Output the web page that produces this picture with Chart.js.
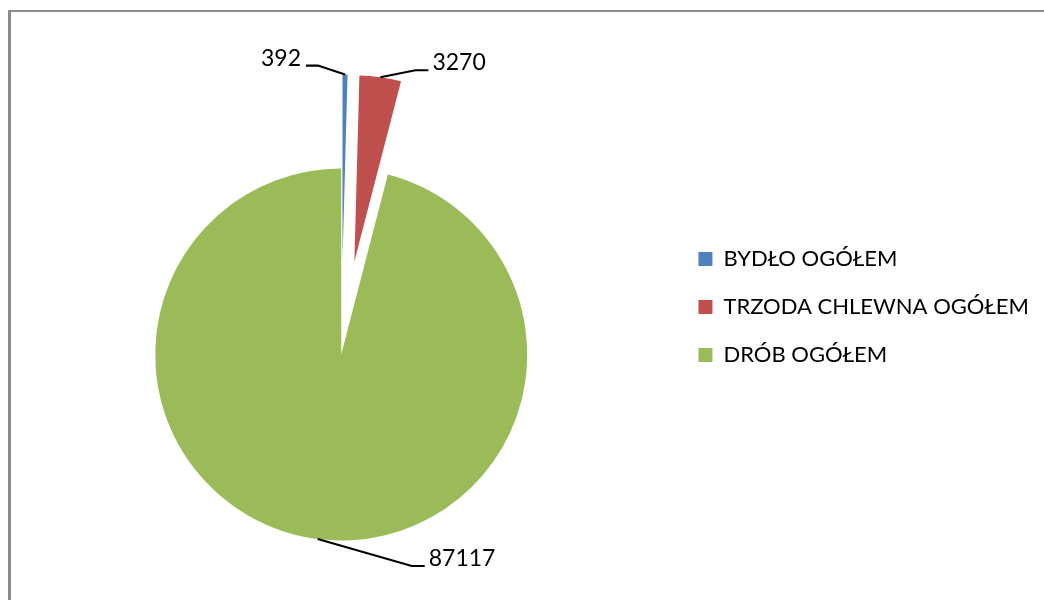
<!DOCTYPE html>
<html>
<head>
<meta charset="utf-8">
<script src="https://cdn.jsdelivr.net/npm/chart.js@4.4.1/dist/chart.umd.min.js"></script>
<style>
  html, body { margin: 0; padding: 0; background: #fff; }
  #wrap { position: relative; width: 1044px; height: 600px; overflow: hidden; }
  #ramka { position: absolute; left: 8px; top: 10px; width: 1100px; height: 700px;
           border-left: 3px solid #8c8c8c; border-top: 2px solid #8c8c8c; }
  canvas { position: absolute; left: 0; top: 0; }
</style>
</head>
<body>
<div id="wrap">
  <div id="ramka"></div>
  <canvas id="wykres" width="1044" height="600"></canvas>
</div>
<script>
const kategorie = ['BYDŁO OGÓŁEM', 'TRZODA CHLEWNA OGÓŁEM', 'DRÓB OGÓŁEM'];
const wartosci = [392, 3270, 87117];
const kolory = ['#4F81BD', '#C0504D', '#9BBB59'];

// wysuniecie wycinkow (px) i przesuniecia linii odniesienia etykiet
const wysuniecie = [94, 94, 0];
const linie = [
    { dx: -27, dy: -9, dl: -12 },
    { dx: 35, dy: -7, dl: 13 },
    { dx: 94, dy: 27, dl: 13 }
];

const czcionka = 'Lato';

// przesuwa wycinki wzdluz ich srodkowego kata
const wybuchPlugin = {
    id: 'wybuch',
    afterDatasetUpdate(chart, args) {
        args.meta.data.forEach(function (arc, i) {
            const d = wysuniecie[i] || 0;
            if (!d) return;
            const kat = (arc.startAngle + arc.endAngle) / 2;
            arc.x += Math.cos(kat) * d;
            arc.y += Math.sin(kat) * d;
        });
    }
};

// etykiety wartosci z liniami odniesienia
const etykietyPlugin = {
    id: 'etykiety',
    afterDatasetsDraw(chart) {
        const ctx = chart.ctx;
        const meta = chart.getDatasetMeta(0);
        ctx.save();
        ctx.strokeStyle = '#000';
        ctx.lineWidth = 2.2;
        ctx.fillStyle = '#000';
        ctx.font = '23px ' + czcionka;
        ctx.textBaseline = 'alphabetic';
        meta.data.forEach(function (arc, i) {
            const kat = (arc.startAngle + arc.endAngle) / 2;
            const ax = arc.x + Math.cos(kat) * arc.outerRadius;
            const ay = arc.y + Math.sin(kat) * arc.outerRadius;
            const l = linie[i];
            const ex = ax + l.dx, ey = ay + l.dy;
            const kx = ex + l.dl;
            ctx.beginPath();
            ctx.moveTo(ax, ay);
            ctx.lineTo(ex, ey);
            ctx.lineTo(kx, ey);
            ctx.stroke();
            if (l.dl < 0) {
                ctx.textAlign = 'right';
                ctx.fillText(String(wartosci[i]), kx - 5, ey);
            } else {
                ctx.textAlign = 'left';
                ctx.fillText(String(wartosci[i]), kx + 4, ey);
            }
        });
        ctx.restore();
    }
};

const ctx = document.getElementById('wykres');
new Chart(ctx, {
    type: 'pie',
    data: {
        labels: kategorie,
        datasets: [{
            data: wartosci,
            backgroundColor: kolory,
            borderWidth: 0,
            radius: 186
        }]
    },
    options: {
        responsive: false,
        animation: false,
        events: [],
        layout: {
            padding: { left: 10, right: 5, top: 222, bottom: 113 }
        },
        plugins: {
            legend: {
                position: 'right',
                align: 'start',
                labels: {
                    boxWidth: 14,
                    boxHeight: 14,
                    padding: 26,
                    color: '#000',
                    font: { family: czcionka, size: 22 }
                }
            },
            tooltip: { enabled: false }
        }
    },
    plugins: [wybuchPlugin, etykietyPlugin]
});
</script>
</body>
</html>
